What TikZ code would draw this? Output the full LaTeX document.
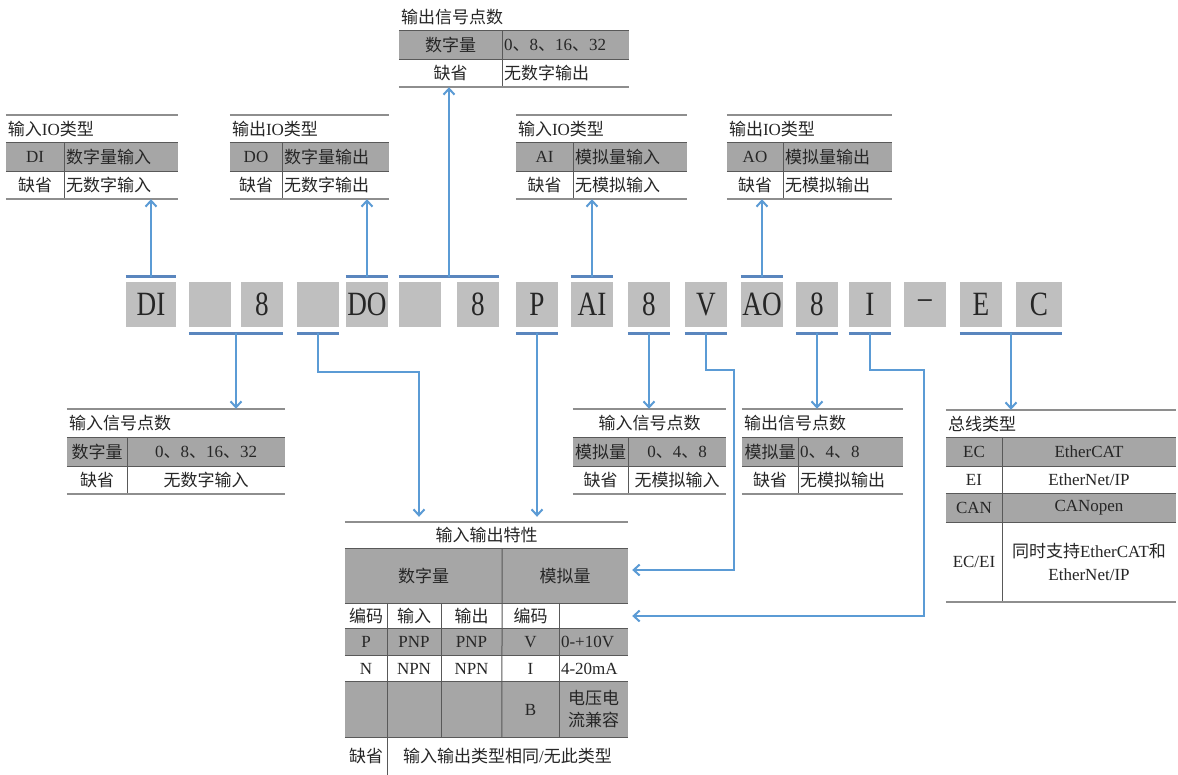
\documentclass[tikz,border=0pt]{standalone}
\usepackage{fontspec}
\setmainfont{Liberation Serif}
\newfontfamily\zhfont{Noto Sans CJK SC}
\newfontfamily\codefont[FakeStretch=0.8]{Liberation Serif}
\newcommand{\zh}[1]{{\zhfont #1}}
\newcommand{\tabfont}{\fontsize{17}{21}\selectfont}
\usepackage{tikz}
\usetikzlibrary{positioning,arrows.meta}

\definecolor{lineblue}{HTML}{5B9BD5}
\definecolor{barblue}{HTML}{5A86BE}
\definecolor{boxgray}{HTML}{BFBFBF}
\definecolor{tabgray}{HTML}{A6A6A6}
\definecolor{rulegray}{HTML}{8E8E8E}
\definecolor{txt}{HTML}{262626}

\begin{document}
\begin{tikzpicture}[x=1pt, y=-1pt,
        codebox/.style={rectangle, fill=boxgray, inner sep=0pt, minimum width=42pt,
            minimum height=45pt, text=txt, font=\codefont\fontsize{34}{34}\selectfont},
        gcell/.style={rectangle, fill=tabgray, inner sep=0pt, text=txt, font=\tabfont},
        wcell/.style={rectangle, inner sep=0pt, text=txt, font=\tabfont},
        sz/.style 2 args={minimum width=#1pt, minimum height=#2pt},
        lsz/.style 2 args={text width=#1pt, minimum height=#2pt, align=left, inner xsep=2pt},
        tabrule/.style={draw=rulegray, line width=2.2pt},
        rowsep/.style={draw=black!65, line width=1pt},
        codebar/.style={draw=barblue, line width=3pt},
        arr/.style={draw=lineblue, line width=2pt, -{Straight Barb[length=6pt,width=11pt]}}
      ]
      \useasboundingbox (0,0) rectangle (1178,775);
      \fill[white] (0,0) rectangle (1178,775);

      % Code row — absolute coords, y=304.5
      \node[codebox, minimum width=50pt] at (151, 304.5) (cDI) {DI};
      \node[codebox] at (210,  304.5) (cB1)   {};
      \node[codebox] at (262,  304.5) (cN1)   {8};
      \node[codebox] at (318,  304.5) (cB2)   {};
      \node[codebox] at (367,  304.5) (cDO)   {DO};
      \node[codebox] at (420,  304.5) (cB3)   {};
      \node[codebox] at (478,  304.5) (cN2)   {8};
      \node[codebox] at (537,  304.5) (cP)    {P};
      \node[codebox] at (592,  304.5) (cAI)   {AI};
      \node[codebox] at (649,  304.5) (cN3)   {8};
      \node[codebox] at (706,  304.5) (cV)    {V};
      \node[codebox] at (762,  304.5) (cAO)   {AO};
      \node[codebox] at (817,  304.5) (cN4)   {8};
      \node[codebox] at (870,  304.5) (cI)    {I};
      \node[codebox] at (925,  304.5) (cDash) {\textendash};
      \node[codebox] at (981,  304.5) (cE)    {E};
      \node[codebox, minimum width=46pt] at (1039, 304.5) (cC) {C};

      % Bars above the code row
      \draw[codebar] ([yshift=5pt]cDI.north west) -- coordinate[midway] (mDI) ([yshift=5pt]cDI.north east);
      \draw[codebar] ([yshift=5pt]cDO.north west) -- coordinate[midway] (mDO) ([yshift=5pt]cDO.north east);
      \draw[codebar] ([yshift=5pt]cB3.north west) -- coordinate[midway] (mOut) ([yshift=5pt]cN2.north east);
      \draw[codebar] ([yshift=5pt]cAI.north west) -- coordinate[midway] (mAI) ([yshift=5pt]cAI.north east);
      \draw[codebar] ([yshift=5pt]cAO.north west) -- coordinate[midway] (mAO) ([yshift=5pt]cAO.north east);

      % Bars below the code row
      \draw[codebar] ([yshift=-6pt]cB1.south west) -- coordinate[midway] (mIn) ([yshift=-6pt]cN1.south east);
      \draw[codebar] ([yshift=-6pt]cB2.south west) -- coordinate[midway] (mB2) ([yshift=-6pt]cB2.south east);
      \draw[codebar] ([yshift=-6pt]cP.south west)  -- coordinate[midway] (mP)  ([yshift=-6pt]cP.south east);
      \draw[codebar] ([yshift=-6pt]cN3.south west) -- coordinate[midway] (mN3) ([yshift=-6pt]cN3.south east);
      \draw[codebar] ([yshift=-6pt]cV.south west)  -- coordinate[midway] (mV)  ([yshift=-6pt]cV.south east);
      \draw[codebar] ([yshift=-6pt]cN4.south west) -- coordinate[midway] (mN4) ([yshift=-6pt]cN4.south east);
      \draw[codebar] ([yshift=-6pt]cI.south west)  -- coordinate[midway] (mI)  ([yshift=-6pt]cI.south east);
      \draw[codebar] ([yshift=-6pt]cE.south west)  -- coordinate[midway] (mBus) ([yshift=-6pt]cC.south east);

      % Input IO type (digital) — x 6..178
      \node[wcell, lsz={168}{28}] at (92,  129) (t1t) {\zh{输入}IO\zh{类型}};
      \node[gcell, sz={58}{28}]   at (35,  157) (t1a) {DI};
      \node[gcell, lsz={110}{28}] at (121, 157) (t1b) {\zh{数字量输入}};
      \node[wcell, sz={58}{28}]   at (35,  185) (t1c) {\zh{缺省}};
      \node[wcell, lsz={110}{28}] at (121, 185) (t1d) {\zh{无数字输入}};
      \draw[tabrule] (t1t.north west) -- (t1t.north east);
      \draw[rowsep]  (t1a.north west) -- (t1b.north east);
      \draw[rowsep]  (t1a.south west) -- (t1b.south east);
      \draw[rowsep]  (t1a.north east) -- (t1c.south east);
      \draw[tabrule] (t1c.south west) -- (t1d.south east);

      % Output IO type (digital) — x 230..389
      \node[wcell, lsz={155}{28}] at (309.5, 129) (t2t) {\zh{输出}IO\zh{类型}};
      \node[gcell, sz={52}{28}]   at (256,   157) (t2a) {DO};
      \node[gcell, lsz={103}{28}] at (335.5, 157) (t2b) {\zh{数字量输出}};
      \node[wcell, sz={52}{28}]   at (256,   185) (t2c) {\zh{缺省}};
      \node[wcell, lsz={103}{28}] at (335.5, 185) (t2d) {\zh{无数字输出}};
      \draw[tabrule] (t2t.north west) -- (t2t.north east);
      \draw[rowsep]  (t2a.north west) -- (t2b.north east);
      \draw[rowsep]  (t2a.south west) -- (t2b.south east);
      \draw[rowsep]  (t2a.north east) -- (t2c.south east);
      \draw[tabrule] (t2c.south west) -- (t2d.south east);

      % Output signal points (digital) — x 399..629, no top rule
      \node[wcell, lsz={226}{27}] at (514,   17.5) (t3t) {\zh{输出信号点数}};
      \node[gcell, sz={103}{28}]  at (450.5, 45)   (t3a) {\zh{数字量}};
      \node[gcell, lsz={123}{28}] at (565.5, 45)   (t3b) {0\zh{、}8\zh{、}16\zh{、}32};
      \node[wcell, sz={103}{28}]  at (450.5, 73)   (t3c) {\zh{缺省}};
      \node[wcell, lsz={123}{28}] at (565.5, 73)   (t3d) {\zh{无数字输出}};
      \draw[rowsep]  (t3a.north west) -- (t3b.north east);
      \draw[rowsep]  (t3a.south west) -- (t3b.south east);
      \draw[rowsep]  (t3a.north east) -- (t3c.south east);
      \draw[tabrule] (t3c.south west) -- (t3d.south east);

      % Input IO type (analog) — x 516..687
      \node[wcell, lsz={167}{28}] at (601.5, 129) (t4t) {\zh{输入}IO\zh{类型}};
      \node[gcell, sz={57}{28}]   at (544.5, 157) (t4a) {AI};
      \node[gcell, lsz={110}{28}] at (630,   157) (t4b) {\zh{模拟量输入}};
      \node[wcell, sz={57}{28}]   at (544.5, 185) (t4c) {\zh{缺省}};
      \node[wcell, lsz={110}{28}] at (630,   185) (t4d) {\zh{无模拟输入}};
      \draw[tabrule] (t4t.north west) -- (t4t.north east);
      \draw[rowsep]  (t4a.north west) -- (t4b.north east);
      \draw[rowsep]  (t4a.south west) -- (t4b.south east);
      \draw[rowsep]  (t4a.north east) -- (t4c.south east);
      \draw[tabrule] (t4c.south west) -- (t4d.south east);

      % Output IO type (analog) — x 727..892
      \node[wcell, lsz={161}{28}] at (809.5, 129) (t5t) {\zh{输出}IO\zh{类型}};
      \node[gcell, sz={56}{28}]   at (755,   157) (t5a) {AO};
      \node[gcell, lsz={105}{28}] at (837.5, 157) (t5b) {\zh{模拟量输出}};
      \node[wcell, sz={56}{28}]   at (755,   185) (t5c) {\zh{缺省}};
      \node[wcell, lsz={105}{28}] at (837.5, 185) (t5d) {\zh{无模拟输出}};
      \draw[tabrule] (t5t.north west) -- (t5t.north east);
      \draw[rowsep]  (t5a.north west) -- (t5b.north east);
      \draw[rowsep]  (t5a.south west) -- (t5b.south east);
      \draw[rowsep]  (t5a.north east) -- (t5c.south east);
      \draw[tabrule] (t5c.south west) -- (t5d.south east);

      % Arrows up to the top tables
      \draw[arr] (mDI)  -- (mDI  |- t1c.south);
      \draw[arr] (mDO)  -- (mDO  |- t2c.south);
      \draw[arr] (mOut) -- (mOut |- t3c.south);
      \draw[arr] (mAI)  -- (mAI  |- t4c.south);
      \draw[arr] (mAO)  -- (mAO  |- t5c.south);

      % Input signal points (digital) — x 67..285
      \node[wcell, lsz={214}{29}] at (176, 423.5) (b1t) {\zh{输入信号点数}};
      \node[gcell, sz={60}{28}]   at (97,  452)   (b1a) {\zh{数字量}};
      \node[gcell, sz={158}{28}]  at (206, 452)   (b1b) {0\zh{、}8\zh{、}16\zh{、}32};
      \node[wcell, sz={60}{28}]   at (97,  480)   (b1c) {\zh{缺省}};
      \node[wcell, sz={158}{28}]  at (206, 480)   (b1d) {\zh{无数字输入}};
      \draw[tabrule] (b1t.north west) -- (b1t.north east);
      \draw[rowsep]  (b1a.north west) -- (b1b.north east);
      \draw[rowsep]  (b1a.south west) -- (b1b.south east);
      \draw[rowsep]  (b1a.north east) -- (b1c.south east);
      \draw[tabrule] (b1c.south west) -- (b1d.south east);

      % Input signal points (analog) — x 573..726
      \node[wcell, sz={153}{29}] at (649.5, 423.5) (b2t) {\zh{输入信号点数}};
      \node[gcell, sz={55}{28}]  at (600.5, 452)   (b2a) {\zh{模拟量}};
      \node[gcell, sz={98}{28}]  at (677,   452)   (b2b) {0\zh{、}4\zh{、}8};
      \node[wcell, sz={55}{28}]  at (600.5, 480)   (b2c) {\zh{缺省}};
      \node[wcell, sz={98}{28}]  at (677,   480)   (b2d) {\zh{无模拟输入}};
      \draw[tabrule] (b2t.north west) -- (b2t.north east);
      \draw[rowsep]  (b2a.north west) -- (b2b.north east);
      \draw[rowsep]  (b2a.south west) -- (b2b.south east);
      \draw[rowsep]  (b2a.north east) -- (b2c.south east);
      \draw[tabrule] (b2c.south west) -- (b2d.south east);

      % Output signal points (analog) — x 742..903
      \node[wcell, lsz={157}{29}] at (822.5, 423.5) (b3t) {\zh{输出信号点数}};
      \node[gcell, sz={56}{28}]   at (770,   452)   (b3a) {\zh{模拟量}};
      \node[gcell, lsz={101}{28}] at (850.5, 452)   (b3b) {0\zh{、}4\zh{、}8};
      \node[wcell, sz={56}{28}]   at (770,   480)   (b3c) {\zh{缺省}};
      \node[wcell, lsz={101}{28}] at (850.5, 480)   (b3d) {\zh{无模拟输出}};
      \draw[tabrule] (b3t.north west) -- (b3t.north east);
      \draw[rowsep]  (b3a.north west) -- (b3b.north east);
      \draw[rowsep]  (b3a.south west) -- (b3b.south east);
      \draw[rowsep]  (b3a.north east) -- (b3c.south east);
      \draw[tabrule] (b3c.south west) -- (b3d.south east);

      % Bus type — x 946..1176
      \node[wcell, lsz={226}{28}] at (1061, 424) (b4t) {\zh{总线类型}};
      \node[gcell, sz={56}{28}]   at (974,  452) (b4a) {EC};
      \node[gcell, sz={174}{28}]  at (1089, 452) (b4b) {EtherCAT};
      \node[wcell, sz={56}{28}]   at (974,  480) (b4c) {EI};
      \node[wcell, sz={174}{28}]  at (1089, 480) (b4d) {EtherNet/IP};
      \node[gcell, sz={56}{28}]   at (974,  508) (b4e) {CAN};
      \node[gcell, sz={174}{28}]  at (1089, 508) (b4f) {CANopen};
      \node[wcell, sz={56}{80}]   at (974,  562) (b4g) {EC/EI};
      \node[wcell, sz={174}{80}, align=center, font=\fontsize{17}{23}\selectfont]
            at (1089, 562) (b4h) {\zh{同时支持}EtherCAT\zh{和}\\EtherNet/IP};
      \draw[tabrule] (b4t.north west) -- (b4t.north east);
      \draw[rowsep]  (b4a.north west) -- (b4b.north east);
      \draw[rowsep]  (b4a.south west) -- (b4b.south east);
      \draw[rowsep]  (b4e.north west) -- (b4f.north east);
      \draw[rowsep]  (b4e.south west) -- (b4f.south east);
      \draw[rowsep]  (b4a.north east) -- (b4g.south east);
      \draw[tabrule] (b4g.south west) -- (b4h.south east);

      % Arrows down to the bottom tables
      \draw[arr] (mIn)  -- (mIn  |- b1t.north);
      \draw[arr] (mN3)  -- (mN3  |- b2t.north);
      \draw[arr] (mN4)  -- (mN4  |- b3t.north);
      \draw[arr] (mBus) -- (mBus |- b4t.north);

      % IO characteristics — x 345..628
      \node[wcell, sz={283}{27}]  at (486.5, 535.5) (iot)  {\zh{输入输出特性}};
      \node[gcell, sz={157}{54}]  at (423.5, 576)   (iDig) {\zh{数字量}};
      \node[gcell, sz={126}{54}]  at (565,   576)   (iAna) {\zh{模拟量}};

      \node[wcell, sz={42}{26}]   at (366,   616) (r1a) {\zh{编码}};
      \node[wcell, sz={54}{26}]   at (414,   616) (r1b) {\zh{输入}};
      \node[wcell, sz={61}{26}]   at (471.5, 616) (r1c) {\zh{输出}};
      \node[wcell, sz={57}{26}]   at (530.5, 616) (r1d) {\zh{编码}};
      \node[wcell, sz={69}{26}]   at (593.5, 616) (r1e) {};

      \node[gcell, sz={42}{26}]   at (366,   642) (r2a) {P};
      \node[gcell, sz={54}{26}]   at (414,   642) (r2b) {PNP};
      \node[gcell, sz={61}{26}]   at (471.5, 642) (r2c) {PNP};
      \node[gcell, sz={57}{26}]   at (530.5, 642) (r2d) {V};
      \node[gcell, lsz={65}{26}]  at (593.5, 642) (r2e) {0-+10V};

      \node[wcell, sz={42}{27}]   at (366,   668.5) (r3a) {N};
      \node[wcell, sz={54}{27}]   at (414,   668.5) (r3b) {NPN};
      \node[wcell, sz={61}{27}]   at (471.5, 668.5) (r3c) {NPN};
      \node[wcell, sz={57}{27}]   at (530.5, 668.5) (r3d) {I};
      \node[wcell, lsz={65}{27}]  at (593.5, 668.5) (r3e) {4-20mA};

      \node[gcell, sz={42}{55}]   at (366,   709.5) (r4a) {};
      \node[gcell, sz={54}{55}]   at (414,   709.5) (r4b) {};
      \node[gcell, sz={61}{55}]   at (471.5, 709.5) (r4c) {};
      \node[gcell, sz={57}{55}]   at (530.5, 709.5) (r4d) {B};
      \node[gcell, sz={69}{55}, align=center, font=\fontsize{17}{22}\selectfont]
            at (593.5, 709.5) (r4e) {\zh{电压电}\\\zh{流兼容}};

      \node[wcell, sz={42}{38}]   at (366,   756) (r5a) {\zh{缺省}};
      \node[wcell, sz={241}{38}]  at (507.5, 756) (r5b) {\zh{输入输出类型相同}/\zh{无此类型}};

      \draw[tabrule] (iot.north west)  -- (iot.north east);
      \draw[rowsep]  (iDig.north west) -- (iAna.north east);
      \draw[rowsep]  (iDig.south west) -- (iAna.south east);
      \draw[rowsep]  (r2a.north west)  -- (r2e.north east);
      \draw[rowsep]  (r2a.south west)  -- (r2e.south east);
      \draw[rowsep]  (r4a.north west)  -- (r4e.north east);
      \draw[rowsep]  (r4a.south west)  -- (r4e.south east);
      \draw[rowsep]  (iDig.north east) -- (r4d.south west);
      \draw[rowsep]  (r1a.north east)  -- (r5a.south east);
      \draw[rowsep]  (r1b.north east)  -- (r4b.south east);
      \draw[rowsep]  (r1d.north east)  -- (r4d.south east);

      % Elbow connectors into the IO characteristics table
      \coordinate (kB2) at (419, 372);
      \coordinate (kV)  at (734, 370);
      \coordinate (kI)  at (924, 370);
      \draw[arr, shorten >=5pt] (mB2) |- (kB2) -- (kB2 |- iot.north);
      \draw[arr, shorten >=5pt] (mP)  -- (mP |- iot.north);
      \draw[arr, shorten >=4pt] (mV)  |- (kV) |- ([yshift=6pt]iAna.east);
      \draw[arr, shorten >=4pt] (mI)  |- (kI) |- (r1e.east);
    \end{tikzpicture}
\end{document}
